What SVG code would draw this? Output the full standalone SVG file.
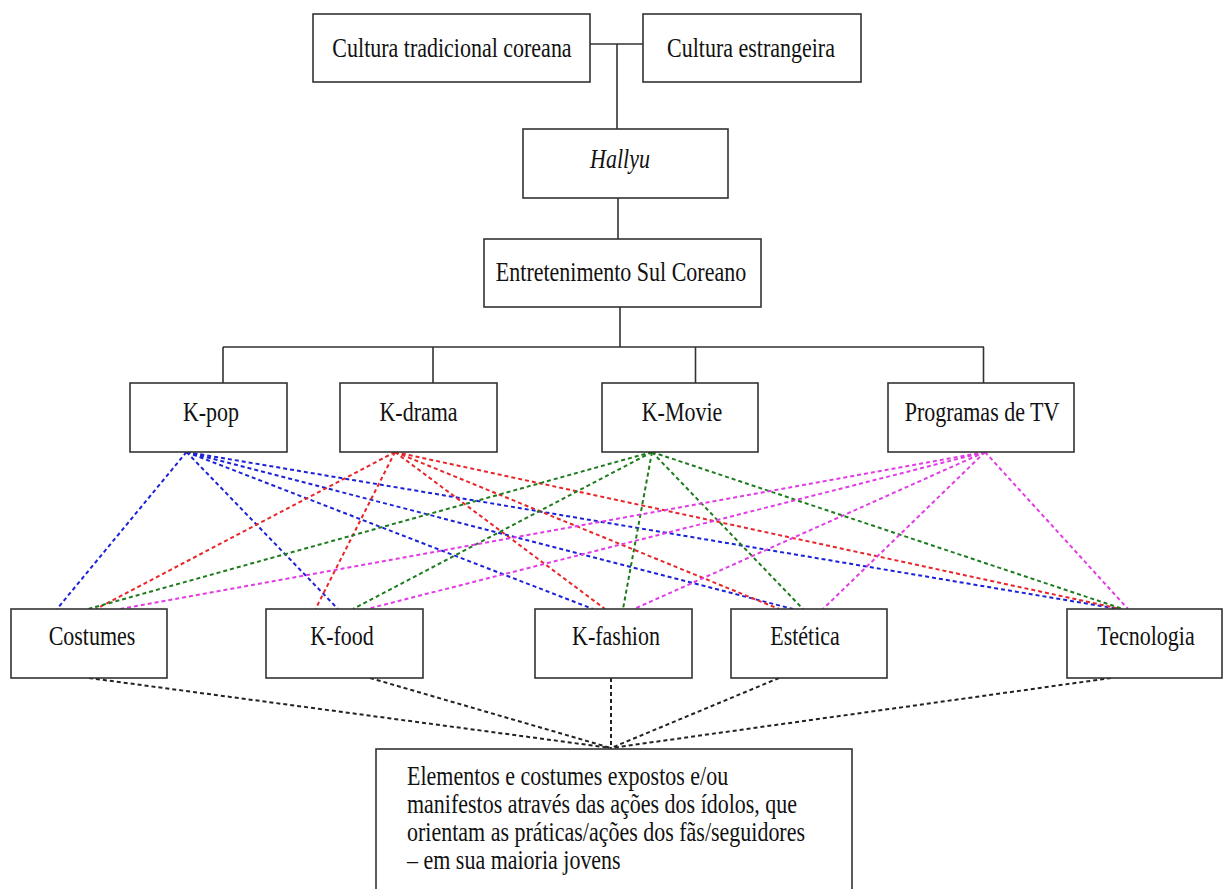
<svg xmlns="http://www.w3.org/2000/svg" width="1224" height="889" viewBox="0 0 1224 889">
<style>
.box{fill:#fff;stroke:#333;stroke-width:1.6}
.t{font-family:"Liberation Serif","Times New Roman",serif;font-size:22px;fill:#111;text-anchor:middle}
.tl{font-family:"Liberation Serif","Times New Roman",serif;font-size:22px;fill:#111}
.solid{stroke:#333;stroke-width:1.6;fill:none}
.d{fill:none;stroke-width:2;stroke-dasharray:4 3}
.b{stroke:#1c22d8}
.r{stroke:#e8262a}
.g{stroke:#1e7b1e}
.p{stroke:#e23ce6}
.k{stroke:#222}
</style>
<rect width="1224" height="889" fill="#fff"/>
<g id="connectors">
<path class="solid" d="M590,44H643M617,44V129M618,198V239M620,307V347M223,347H984M223,347V383M433,347V383M695.5,347V383M983.5,347V383"/>
<g id="kpop-links">
<line class="d b" x1="186.5" y1="452" x2="57" y2="609"/>
<line class="d b" x1="186.5" y1="452" x2="338" y2="609"/>
<line class="d b" x1="186.5" y1="452" x2="593" y2="609"/>
<line class="d b" x1="186.5" y1="452" x2="793" y2="609"/>
<line class="d b" x1="186.5" y1="452" x2="1119" y2="609"/>
</g>
<g id="kdrama-links">
<line class="d r" x1="395" y1="452" x2="96" y2="609"/>
<line class="d r" x1="395" y1="452" x2="315.5" y2="609"/>
<line class="d r" x1="395" y1="452" x2="605" y2="609"/>
<line class="d r" x1="395" y1="452" x2="779" y2="609"/>
<line class="d r" x1="395" y1="452" x2="1121" y2="609"/>
</g>
<g id="kmovie-links">
<line class="d g" x1="652" y1="452" x2="88" y2="609"/>
<line class="d g" x1="652" y1="452" x2="353" y2="609"/>
<line class="d g" x1="652" y1="452" x2="623" y2="609"/>
<line class="d g" x1="652" y1="452" x2="803" y2="609"/>
<line class="d g" x1="652" y1="452" x2="1123" y2="609"/>
</g>
<g id="tv-links">
<line class="d p" x1="985" y1="452" x2="120" y2="609"/>
<line class="d p" x1="985" y1="452" x2="367" y2="609"/>
<line class="d p" x1="985" y1="452" x2="634" y2="609"/>
<line class="d p" x1="985" y1="452" x2="823" y2="609"/>
<line class="d p" x1="985" y1="452" x2="1128" y2="609"/>
</g>
<g id="result-links">
<line class="d k" x1="89" y1="678" x2="611" y2="748"/>
<line class="d k" x1="370" y1="678" x2="611" y2="748"/>
<line class="d k" x1="611" y1="678" x2="611" y2="748"/>
<line class="d k" x1="779" y1="678" x2="611" y2="748"/>
<line class="d k" x1="1111" y1="678" x2="611" y2="748"/>
</g>
</g>
<g id="n-cultura-tradicional">
<rect class="box" x="313" y="14" width="277" height="68"/>
<text class="t" transform="translate(452,57) scale(1,1.2)">Cultura tradicional coreana</text>
</g>
<g id="n-cultura-estrangeira">
<rect class="box" x="643" y="14" width="218" height="68"/>
<text class="t" transform="translate(751,57) scale(1,1.2)">Cultura estrangeira</text>
</g>
<g id="n-hallyu">
<rect class="box" x="523" y="129" width="205" height="69"/>
<text class="t" font-style="italic" transform="translate(620,168) scale(1,1.2)">Hallyu</text>
</g>
<g id="n-entretenimento">
<rect class="box" x="484" y="239" width="277" height="68"/>
<text class="t" transform="translate(621,281) scale(1,1.2)">Entretenimento Sul Coreano</text>
</g>
<g id="n-kpop">
<rect class="box" x="130" y="383" width="157" height="69"/>
<text class="t" transform="translate(211,420.5) scale(1,1.2)">K-pop</text>
</g>
<g id="n-kdrama">
<rect class="box" x="340" y="383" width="157" height="69"/>
<text class="t" transform="translate(418.5,420.5) scale(1,1.2)">K-drama</text>
</g>
<g id="n-kmovie">
<rect class="box" x="602" y="383" width="156" height="69"/>
<text class="t" transform="translate(682,420.5) scale(1,1.2)">K-Movie</text>
</g>
<g id="n-programas">
<rect class="box" x="888" y="383" width="186" height="69"/>
<text class="t" transform="translate(982,420.5) scale(1,1.2)">Programas de TV</text>
</g>
<g id="n-costumes">
<rect class="box" x="11" y="609" width="156" height="69"/>
<text class="t" transform="translate(92,645) scale(1,1.2)">Costumes</text>
</g>
<g id="n-kfood">
<rect class="box" x="266" y="609" width="157" height="69"/>
<text class="t" transform="translate(342,645) scale(1,1.2)">K-food</text>
</g>
<g id="n-kfashion">
<rect class="box" x="535" y="609" width="157" height="69"/>
<text class="t" transform="translate(616,645) scale(1,1.2)">K-fashion</text>
</g>
<g id="n-estetica">
<rect class="box" x="731" y="609" width="156" height="69"/>
<text class="t" transform="translate(805,645) scale(1,1.2)">Estética</text>
</g>
<g id="n-tecnologia">
<rect class="box" x="1067" y="609" width="155" height="69"/>
<text class="t" transform="translate(1146,645) scale(1,1.2)">Tecnologia</text>
</g>
<g id="n-elementos">
<rect class="box" x="376" y="749" width="476" height="160"/>
<text class="tl" transform="translate(407,785) scale(1,1.2)">Elementos e costumes expostos e/ou</text>
<text class="tl" transform="translate(407,813) scale(1,1.2)">manifestos através das ações dos ídolos, que</text>
<text class="tl" transform="translate(407,841) scale(1,1.2)">orientam as práticas/ações dos fãs/seguidores</text>
<text class="tl" transform="translate(407,868.5) scale(1,1.2)">– em sua maioria jovens</text>
</g>
</svg>
